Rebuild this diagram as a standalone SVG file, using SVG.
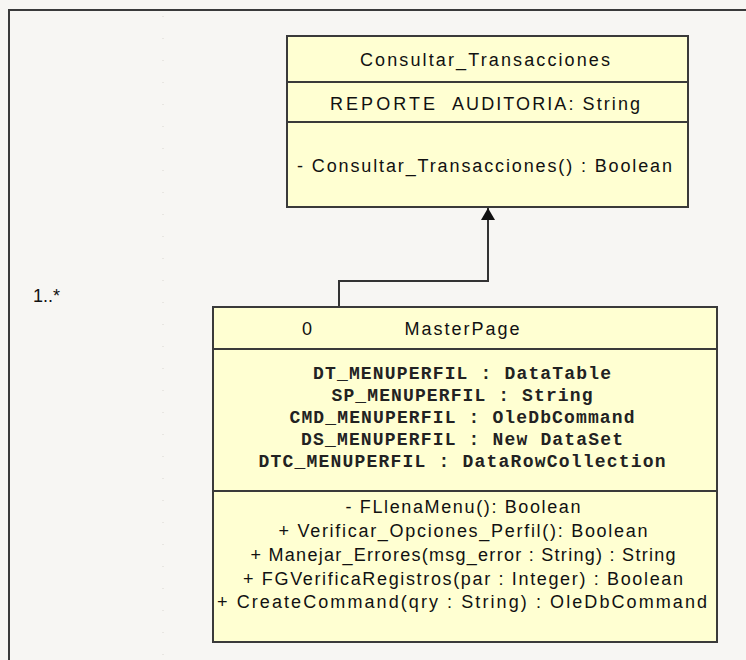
<svg xmlns="http://www.w3.org/2000/svg" width="746" height="660" viewBox="0 0 746 660">
  <style>
    .cls { fill: #ffffd2; stroke: #3a3a3a; stroke-width: 2; }
    .sep { stroke: #3a3a3a; stroke-width: 2; }
    .sans { font-family: "Liberation Sans", Arial, sans-serif; font-size: 18px; fill: #111; }
    .mono { font-family: "Liberation Mono", "Courier New", monospace; font-size: 18px; font-weight: bold; fill: #222; }
    .mid { text-anchor: middle; }
    .edge { fill: none; stroke: #333; stroke-width: 2; }
  </style>
  <defs>
    <!-- filled triangle, tip at the end of the path -->
    <marker id="arrowHead" markerWidth="14" markerHeight="14" refX="0" refY="0" orient="auto" markerUnits="userSpaceOnUse" viewBox="-13 -7 14 14">
      <path d="M0,0 L-12,-7 L-12,7 Z" fill="#111"/>
    </marker>
  </defs>

  <!-- canvas -->
  <rect x="0" y="0" width="746" height="660" fill="#f7f6f3"/>
  <line x1="163" y1="16" x2="163" y2="660" stroke="#d9d6d0" stroke-width="1" stroke-dasharray="1 21"/>

  <!-- frame -->
  <g id="frame">
    <path d="M9,660 V10 H746" fill="none" stroke="#3a3a3a" stroke-width="2"/>
  </g>

  <!-- multiplicity label -->
  <g id="multiplicity">
    <text class="sans" x="33" y="302" font-size="14">1..*</text>
  </g>

  <!-- generalisation connector -->
  <g id="connectors">
    <path class="edge" d="M339,307 V281 H488 V208" marker-end="url(#arrowHead)"/>
  </g>

  <!-- parent class -->
  <g id="Consultar_Transacciones">
    <rect class="cls" x="287" y="36" width="401" height="171"/>
    <line class="sep" x1="287" y1="82" x2="688" y2="82"/>
    <line class="sep" x1="287" y1="122" x2="688" y2="122"/>
    <text class="sans" x="360" y="66" textLength="250" lengthAdjust="spacing">Consultar_Transacciones</text>
    <text class="sans" x="330" y="110" textLength="105" lengthAdjust="spacing">REPORTE</text>
    <text class="sans" x="452" y="110" textLength="188" lengthAdjust="spacing">AUDITORIA: String</text>
    <text class="sans" x="297" y="172" textLength="375" lengthAdjust="spacing">- Consultar_Transacciones() : Boolean</text>
  </g>

  <!-- child class -->
  <g id="MasterPage">
    <rect class="cls" x="213" y="307" width="504" height="335"/>
    <line class="sep" x1="213" y1="349" x2="717" y2="349"/>
    <line class="sep" x1="213" y1="491" x2="717" y2="491"/>
    <text class="sans" x="302" y="335">0</text>
    <text class="sans mid" x="462" y="335" textLength="115" lengthAdjust="spacing">MasterPage</text>

    <text class="mono mid" x="462" y="379" textLength="298" lengthAdjust="spacing">DT_MENUPERFIL : DataTable</text>
    <text class="mono mid" x="462" y="401" textLength="261" lengthAdjust="spacing">SP_MENUPERFIL : String</text>
    <text class="mono mid" x="462" y="423" textLength="345" lengthAdjust="spacing">CMD_MENUPERFIL : OleDbCommand</text>
    <text class="mono mid" x="462" y="445" textLength="322" lengthAdjust="spacing">DS_MENUPERFIL : New DataSet</text>
    <text class="mono mid" x="462" y="467" textLength="407" lengthAdjust="spacing">DTC_MENUPERFIL : DataRowCollection</text>

    <text class="sans mid" x="463" y="513" textLength="235" lengthAdjust="spacing">- FLlenaMenu(): Boolean</text>
    <text class="sans mid" x="463" y="537" textLength="369" lengthAdjust="spacing">+ Verificar_Opciones_Perfil(): Boolean</text>
    <text class="sans mid" x="463" y="561" textLength="425" lengthAdjust="spacing">+ Manejar_Errores(msg_error : String) : String</text>
    <text class="sans mid" x="463" y="585" textLength="440" lengthAdjust="spacing">+ FGVerificaRegistros(par : Integer) : Boolean</text>
    <text class="sans mid" x="462" y="608" textLength="490" lengthAdjust="spacing">+ CreateCommand(qry : String) : OleDbCommand</text>
  </g>
</svg>
